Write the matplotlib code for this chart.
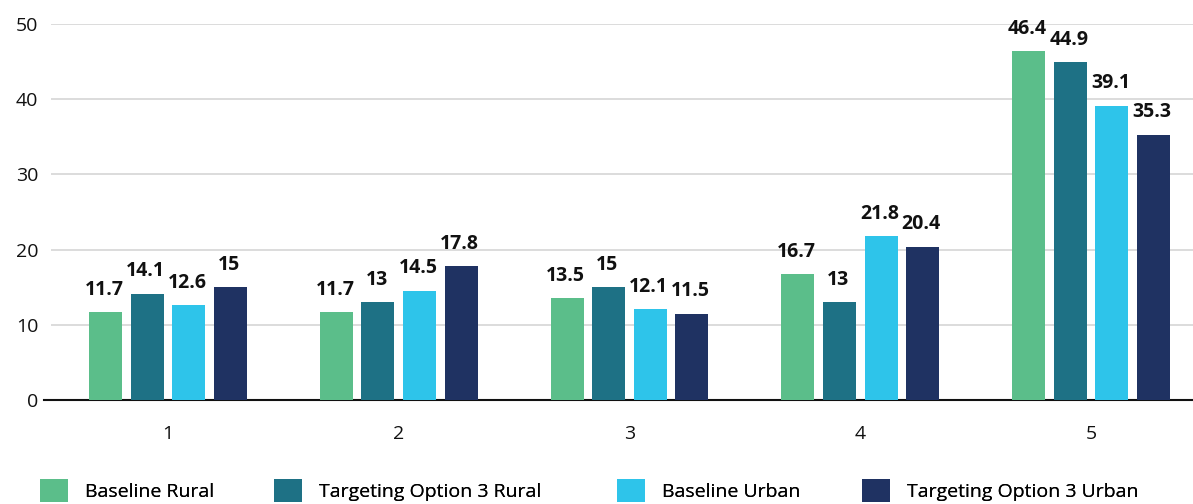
import numpy as np
import matplotlib.pyplot as plt
from matplotlib.patches import Patch

plt.rcParams['font.family'] = ['Open Sans', 'DejaVu Sans']

# data
categories = ['1', '2', '3', '4', '5']
series = ['Baseline Rural', 'Targeting Option 3 Rural',
          'Baseline Urban', 'Targeting Option 3 Urban']
baseline_rural = [11.7, 11.7, 13.5, 16.7, 46.4]
target_rural = [14.1, 13, 15, 13, 44.9]
baseline_urban = [12.6, 14.5, 12.1, 21.8, 39.1]
target_urban = [15, 17.8, 11.5, 20.4, 35.3]
y_ticks = [0, 10, 20, 30, 40, 50]

colors = ['#5BBE8A', '#1E7185', '#2EC4EA', '#1F3262']
values = [baseline_rural, target_rural, baseline_urban, target_urban]

W, H = 1193, 504
fig = plt.figure(figsize=(W / 100, H / 100), dpi=100)
ax = fig.add_axes([44 / W, 1 - 400 / H, 1 - 44 / W, (400 - 24) / H])

x = np.arange(len(categories))
bw = 0.143
step = 0.18
for i, (vals, c) in enumerate(zip(values, colors)):
    pos = x + (i - 1.5) * step
    ax.bar(pos, vals, width=bw, color=c, zorder=3)
    for px, v in zip(pos, vals):
        ax.annotate(f'{v:g}', (px, v), xytext=(-1, 9), textcoords='offset points',
                    ha='center', va='bottom', fontsize=14, fontweight='bold',
                    color='#111111', zorder=4)

xmin, xmax = -0.537, 4.442
ax.set_xlim(xmin, xmax)
ax.set_ylim(0, 50)

# gridlines start a little right of the axis line
ax.hlines(y_ticks[1:], xmin + 7 / 230.75, xmax, color='#d6d6d6', lw=1.2, zorder=1)

ax.set_xticks(x)
ax.set_xticklabels(categories)
ax.set_yticks(y_ticks)
ax.tick_params(axis='both', length=0, labelsize=14, colors='#111111')
ax.tick_params(axis='x', pad=18)
ax.tick_params(axis='y', pad=4)

for s in ['top', 'right', 'left']:
    ax.spines[s].set_visible(False)
ax.spines['bottom'].set_color('#111111')
ax.spines['bottom'].set_linewidth(1.5)

# one legend per entry so each sits where the reference puts it
legend_x = [40, 274, 617, 862]
for name, c, lx in zip(series, colors, legend_x):
    leg = fig.legend([Patch(facecolor=c, edgecolor='none')], [name], loc='upper left',
                     bbox_to_anchor=(lx / W, 1 - 479 / H), frameon=False, fontsize=14,
                     borderpad=0, borderaxespad=0, handlelength=1.45, handleheight=1.45,
                     handletextpad=0.85)
    fig.add_artist(leg)

fig.savefig('out.png', dpi=100)
